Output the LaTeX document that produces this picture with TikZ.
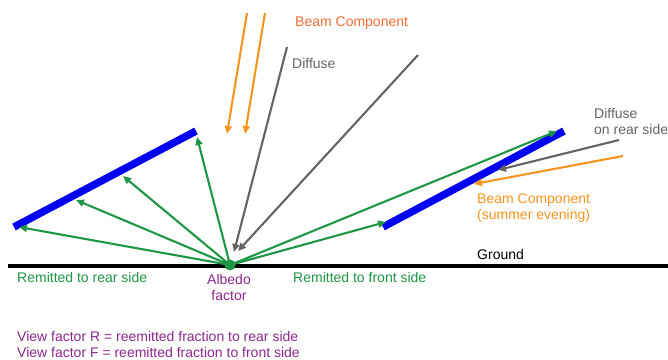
\documentclass[tikz,border=0pt]{standalone}
\usepackage{fontspec}
\setmainfont{Liberation Sans}
\usetikzlibrary{arrows.meta}

\definecolor{albgreen}{RGB}{30,150,70}
\definecolor{albgray}{RGB}{100,100,100}
\definecolor{beamorange}{RGB}{247,148,29}
\definecolor{beamred}{RGB}{242,110,50}
\definecolor{albpurple}{RGB}{140,40,140}
\definecolor{panelblue}{RGB}{0,0,240}

\tikzset{
    ray/.style={line width=2.1pt, -{Triangle[length=8pt,width=7pt]}},
    panel/.style={line width=7.5pt, panelblue},
    lbl/.style={inner sep=0pt, font=\fontsize{14}{16}\selectfont}
}

\begin{document}
\begin{tikzpicture}[x=1pt, y=-1pt]
    \useasboundingbox (0,0) rectangle (668,359);

    % ground and albedo point
    \draw[line width=3.2pt] (8,266) -- (668,266);
    \node[circle, fill=albgreen, inner sep=0pt, minimum size=11pt] (alb) at (230,265) {};

    % the two panels
    \draw[panel] (14,227) -- (196,131);
    \draw[panel] (383,227) -- (564,131);

    % incoming light
    \coordinate (b1s) at (247,13);  \coordinate (b1e) at (227,134);
    \coordinate (b2s) at (265,13);  \coordinate (b2e) at (245,134);
    \coordinate (d1s) at (287,47);  \coordinate (d1e) at (234,252);
    \coordinate (d2s) at (418,55);  \coordinate (d2e) at (238,251);
    \draw[ray, beamorange] (b1s) -- (b1e);
    \draw[ray, beamorange] (b2s) -- (b2e);
    \draw[ray, albgray] (d1s) -- (d1e);
    \draw[ray, albgray] (d2s) -- (d2e);

    % rear side light
    \coordinate (rds) at (619,140);  \coordinate (rde) at (498,170);
    \coordinate (rbs) at (623,156);  \coordinate (rbe) at (474,184);
    \draw[ray, albgray] (rds) -- (rde);
    \draw[ray, beamorange] (rbs) -- (rbe);

    % reemitted light
    \coordinate (r1) at (19,227);
    \coordinate (r2) at (76,200);
    \coordinate (r3) at (123,176);
    \coordinate (r4) at (197,137);
    \coordinate (f1) at (386,222);
    \coordinate (f2) at (557,131);
    \foreach \t in {r1,r2,r3,r4,f1,f2}
        \draw[ray, albgreen] (alb.center) -- (\t);

    % labels
    \node[lbl, anchor=west, text=beamred] (beam) at (295,23) {Beam Component};
    \node[lbl, anchor=west, text=albgray] (diff) at (292,63) {Diffuse};
    \node[lbl, anchor=north west, align=left, text=albgray] (diffrear) at (594,108) {Diffuse\\on rear side};
    \node[lbl, anchor=north west, align=left, text=beamorange] (beamrear) at (477,194) {Beam Component\\(summer evening)};
    \node[lbl, anchor=west] (ground) at (477,254) {Ground};
    \node[lbl, anchor=west, text=albgreen] (rear) at (17,277) {Remitted to rear side};
    \node[lbl, anchor=west, text=albgreen] (front) at (293,277) {Remitted to front side};
    \node[lbl, anchor=north, align=center, text=albpurple] (albtxt) at (229,274) {Albedo\\factor};
    \node[lbl, anchor=north west, align=left, text=albpurple] (view) at (17,331) {View factor R = reemitted fraction to rear side\\View factor F = reemitted fraction to front side};
\end{tikzpicture}
\end{document}
